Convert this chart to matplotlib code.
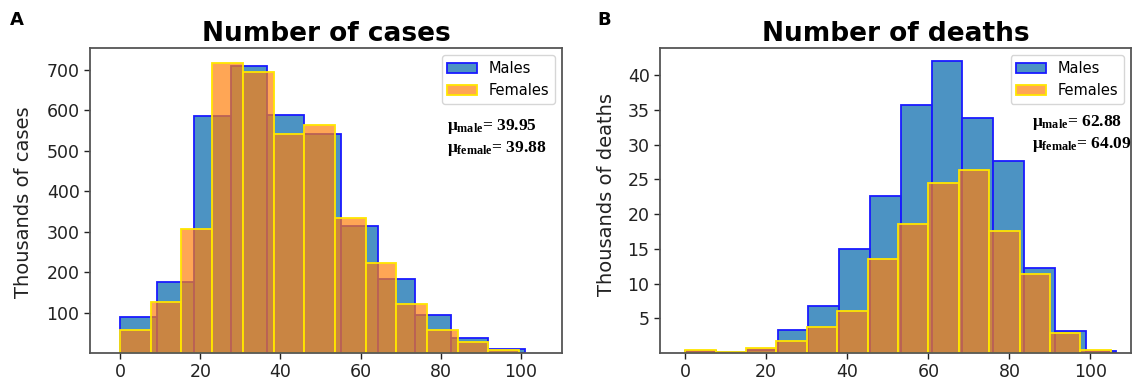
import numpy as np
import matplotlib
matplotlib.use("Agg")
import matplotlib.pyplot as plt
from matplotlib.patches import Patch

# ---------------- data ----------------
# Panel A: number of cases (thousands) by age
cases_male_range = (0, 101)
cases_male_counts = [89, 175, 585, 709, 588, 542, 313, 183, 95, 36, 9]
cases_female_range = (0, 99.5)
cases_female_counts = [58, 126, 306, 718, 695, 542, 563, 333, 223, 120, 57, 28, 7]
cases_mu = ("39.95", "39.88")

# Panel B: number of deaths (thousands) by age
deaths_male_range = (0, 106.4)
deaths_male_counts = [0.3, 0.1, 0.5, 3.3, 6.8, 14.9, 22.6, 35.7, 42.0, 33.8, 27.6, 12.2, 3.2, 0.3]
deaths_female_range = (0, 105)
deaths_female_counts = [0.5, 0.2, 0.7, 1.7, 3.8, 6.0, 13.5, 18.5, 24.4, 26.4, 17.5, 11.3, 2.9, 0.5]
deaths_mu = ("62.88", "64.09")

titles = ["Number of cases", "Number of deaths"]
ylabels = ["Thousands of cases", "Thousands of deaths"]
panel_letters = ["A", "B"]
legend_labels = ["Males", "Females"]
xticks = [0, 20, 40, 60, 80, 100]
yticks_a = [100, 200, 300, 400, 500, 600, 700]
yticks_b = [5, 10, 15, 20, 25, 30, 35, 40]

# ---------------- style ----------------
plt.rcParams['mathtext.fontset'] = 'custom'
plt.rcParams['mathtext.rm'] = 'Liberation Serif:bold'
plt.rcParams['mathtext.it'] = 'Liberation Serif:bold'
plt.rcParams['mathtext.bf'] = 'Liberation Serif:bold'

male_face = (0.12, 0.47, 0.71, 0.8)
male_edge = (0.1, 0.1, 1.0)
female_face = (1.0, 0.5, 0.05, 0.7)
female_edge = (1.0, 0.9, 0.0)
spine_col = '#555555'

fig = plt.figure(figsize=(11.34, 3.85), dpi=100)
W, H = 1134, 385

def ax_rect(l, t, r, b):
    return [l / W, 1 - b / H, (r - l) / W, (b - t) / H]

axA = fig.add_axes(ax_rect(90, 48, 562, 353))
axB = fig.add_axes(ax_rect(660, 48, 1131, 353))

def draw(ax, mrange, mcounts, frange, fcounts):
    medges = np.linspace(mrange[0], mrange[1], len(mcounts) + 1)
    fedges = np.linspace(frange[0], frange[1], len(fcounts) + 1)
    ax.bar(medges[:-1], mcounts, width=np.diff(medges), align='edge',
           facecolor=male_face, edgecolor=male_edge, linewidth=1.3)
    ax.bar(fedges[:-1], fcounts, width=np.diff(fedges), align='edge',
           facecolor=female_face, edgecolor=female_edge, linewidth=1.3)

draw(axA, cases_male_range, cases_male_counts, cases_female_range, cases_female_counts)
draw(axB, deaths_male_range, deaths_male_counts, deaths_female_range, deaths_female_counts)

axA.set_xlim(-7.5, 110.2)
axA.set_ylim(0, 754)
axA.set_yticks(yticks_a)
axB.set_xlim(-6.2, 110)
axB.set_ylim(0, 43.9)
axB.set_yticks(yticks_b)

for ax, title, ylab, mu, lx, ly, labx, laby in [
        (axA, titles[0], ylabels[0], cases_mu, 447, 126, 24, 202),
        (axB, titles[1], ylabels[1], deaths_mu, 1032, 123, 607, 194)]:
    ax.set_xticks(xticks)
    ax.tick_params(labelsize=12.5, colors='#222222', length=4, width=1)
    for s in ax.spines.values():
        s.set_color(spine_col)
        s.set_linewidth(1.3)
    ax.set_title(title, fontsize=19, fontweight='bold', pad=5)
    ax.set_ylabel(ylab, fontsize=14, color='#222222')
    bb = ax.get_position()
    ax.yaxis.set_label_coords((labx / W - bb.x0) / bb.width,
                              ((1 - laby / H) - bb.y0) / bb.height)
    ax.yaxis.label.set_va('center')
    handles = [Patch(facecolor=male_face, edgecolor=male_edge, linewidth=1.3),
               Patch(facecolor=female_face, edgecolor=female_edge, linewidth=1.3)]
    ax.legend(handles, legend_labels, loc='upper right', fontsize=10.5,
              borderaxespad=0.5, handlelength=2.0)
    fig.text(lx / W, 1 - ly / H, r'$\mu_{\mathrm{male}}$' + '= ' + mu[0],
             fontsize=12.5, fontfamily='Liberation Serif', fontweight='bold',
             va='center', ha='left')
    fig.text(lx / W, 1 - (ly + 22) / H, r'$\mu_{\mathrm{female}}$' + '= ' + mu[1],
             fontsize=12.5, fontfamily='Liberation Serif', fontweight='bold',
             va='center', ha='left')

fig.text(10 / W, 1 - 20 / H, panel_letters[0], fontsize=13, fontweight='bold', va='center')
fig.text(597 / W, 1 - 20 / H, panel_letters[1], fontsize=13, fontweight='bold', va='center')

fig.savefig('out.png', dpi=100)
